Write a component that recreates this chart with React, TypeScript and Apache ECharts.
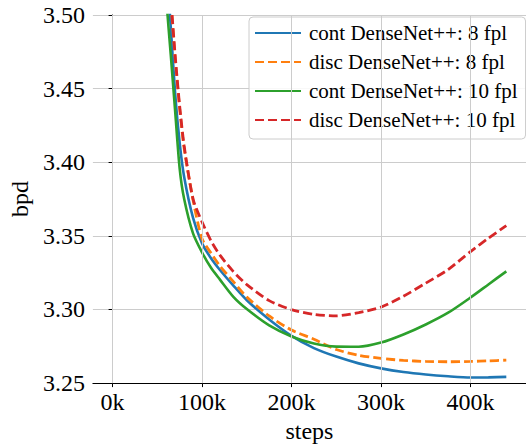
import React, { useEffect, useRef } from "react";
import * as echarts from "echarts";

const steps = [0, 20000, 40000, 50000, 60000, 65000, 70000, 75000, 80000, 90000, 100000, 110000, 120000, 135000, 150000, 175000, 200000, 225000, 250000, 275000, 300000, 325000, 350000, 375000, 400000, 420000, 440000];

const contDense8 = [5.0, 4.1, 3.78, 3.64, 3.538, 3.492, 3.446, 3.413, 3.39, 3.362, 3.3449, 3.3348, 3.3268, 3.3162, 3.3063, 3.2932, 3.2821, 3.2738, 3.268, 3.2634, 3.26, 3.2575, 3.2558, 3.2546, 3.2538, 3.2539, 3.2542];
const discDense8 = [5.0, 4.1, 3.8, 3.67, 3.551, 3.51, 3.47, 3.4361, 3.4093, 3.374, 3.348, 3.3383, 3.3295, 3.3189, 3.3084, 3.2956, 3.286, 3.2798, 3.2728, 3.2689, 3.2668, 3.2654, 3.2647, 3.2645, 3.2647, 3.2651, 3.2656];
const contDense10 = [5.0, 4.1, 3.76, 3.6, 3.511, 3.473, 3.434, 3.3955, 3.375, 3.3515, 3.3387, 3.3283, 3.3203, 3.3086, 3.3003, 3.2892, 3.2817, 3.2769, 3.2748, 3.2747, 3.2775, 3.283, 3.2898, 3.2978, 3.3081, 3.317, 3.3259];
const discDense10 = [5.0, 4.1, 3.8, 3.67, 3.553, 3.512, 3.472, 3.438, 3.411, 3.3749, 3.3594, 3.3466, 3.3369, 3.3257, 3.3169, 3.306, 3.2999, 3.2967, 3.2957, 3.2979, 3.3016, 3.309, 3.3179, 3.3271, 3.3393, 3.3484, 3.357];

const seriesNames = ["cont DenseNet++: 8 fpl", "disc DenseNet++: 8 fpl", "cont DenseNet++: 10 fpl", "disc DenseNet++: 10 fpl"];
const xTickValues = [0, 100000, 200000, 300000, 400000];

const FONT = "Liberation Serif";
const labelRich = { t: { fontFamily: FONT, fontSize: 24, color: "#000" } };

export default function App() {
  const ref = useRef<HTMLDivElement>(null);
  useEffect(() => {
    document.body.style.margin = "0";
    if (!ref.current) return;
    const chart = echarts.init(ref.current, null, { renderer: "svg" });
    const pair = (vals: number[]) => steps.map((s, i) => [s, vals[i]]);
    const mk = (name: string, vals: number[], color: string, dashed: boolean) => ({
      name,
      type: "line",
      data: pair(vals),
      showSymbol: false,
      symbol: "none",
      smooth: 0.25,
      clip: true,
      z: 3,
      lineStyle: { color, width: dashed ? 2.8 : 2.6, type: dashed ? [9, 4] : "solid", cap: "butt" },
      itemStyle: { color },
    });
    chart.setOption({
      animation: false,
      backgroundColor: "#fff",
      textStyle: { fontFamily: FONT },
      grid: { left: 91, top: 15, width: 438, height: 374 },
      xAxis: {
        type: "value",
        min: -22000,
        max: 462000,
        name: "{t|steps}",
        nameLocation: "middle",
        nameGap: 30,
        nameTextStyle: { fontFamily: FONT, fontSize: 24, color: "#000", rich: labelRich },
        axisLine: { show: true, lineStyle: { color: "#000", width: 1 } },
        axisTick: { show: true, length: 4, customValues: xTickValues, lineStyle: { color: "#000" } },
        axisLabel: {
          customValues: xTickValues,
          formatter: (v: number) => `{t|${Math.round(v / 1000)}k}`,
          rich: labelRich,
          fontFamily: FONT,
          fontSize: 24,
          color: "#000",
          margin: 7,
        },
        splitLine: { show: false },
      },
      yAxis: {
        type: "value",
        min: 3.25,
        max: 3.5,
        interval: 0.05,
        name: "{t|bpd}",
        nameLocation: "middle",
        nameRotate: 90,
        nameGap: 58,
        nameTextStyle: { fontFamily: FONT, fontSize: 24, color: "#000", rich: labelRich },
        axisLine: { show: true, lineStyle: { color: "#000", width: 1 } },
        axisTick: { show: true, length: 4, lineStyle: { color: "#000" } },
        axisLabel: {
          formatter: (v: number) => `{t|${v.toFixed(2)}}`,
          rich: labelRich,
          fontFamily: FONT,
          fontSize: 24,
          color: "#000",
          margin: 8,
        },
        splitLine: { show: true, lineStyle: { color: "#cccccc", width: 1 } },
      },
      legend: {
        data: seriesNames,
        orient: "vertical",
        left: 249,
        top: 17,
        padding: [4, 8, 7, 5],
        itemGap: 5,
        itemWidth: 46,
        itemHeight: 14,
        backgroundColor: "rgba(255,255,255,0.85)",
        borderColor: "#cccccc",
        borderWidth: 1,
        borderRadius: 4,
        itemStyle: { opacity: 0, borderWidth: 0 },
        textStyle: { fontFamily: FONT, fontSize: 21, color: "#000", lineHeight: 24, padding: [0, 0, 0, 3] },
      },
      series: [
        {
          name: "grid",
          type: "line",
          data: [],
          z: 1,
          silent: true,
          markLine: {
            silent: true,
            symbol: ["none", "none"],
            label: { show: false },
            lineStyle: { color: "#cccccc", width: 1, type: "solid" },
            data: xTickValues.map((v) => ({ xAxis: v })),
          },
        },
        mk(seriesNames[0], contDense8, "#1f77b4", false),
        mk(seriesNames[1], discDense8, "#ff7f0e", true),
        mk(seriesNames[2], contDense10, "#2ca02c", false),
        mk(seriesNames[3], discDense10, "#d62728", true),
      ],
    });
    return () => chart.dispose();
  }, []);
  return <div ref={ref} style={{ width: 526, height: 448, position: "fixed", left: 0, top: 0 }} />;
}
